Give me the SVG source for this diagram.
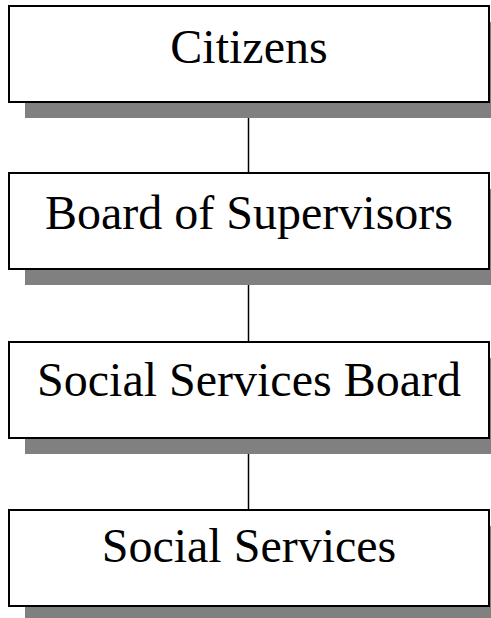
<svg xmlns="http://www.w3.org/2000/svg" width="491" height="618" viewBox="0 0 491 618">
<style>
.shadow{fill:#808080}
.box{fill:#fff;stroke:#000;stroke-width:2}
.label{font-family:"Liberation Serif","Times New Roman",serif;font-size:48px;fill:#000;text-anchor:middle}
.conn{stroke:#000;stroke-width:1.5;fill:none}
</style>
<rect width="491" height="618" fill="#fff"/>
<g id="connectors">
<line class="conn" x1="248.5" y1="102" x2="248.5" y2="173"/>
<line class="conn" x1="248.5" y1="269" x2="248.5" y2="342"/>
<line class="conn" x1="248.5" y1="438" x2="248.5" y2="510"/>
</g>
<g id="citizens">
<rect class="shadow" x="25" y="22" width="480" height="96"/>
<rect class="box" x="9" y="6" width="480" height="96"/>
<text class="label" x="249" y="63">Citizens</text>
</g>
<g id="board-of-supervisors">
<rect class="shadow" x="25" y="189" width="480" height="96"/>
<rect class="box" x="9" y="173" width="480" height="96"/>
<text class="label" x="249" y="229">Board of Supervisors</text>
</g>
<g id="social-services-board">
<rect class="shadow" x="25" y="358" width="480" height="96"/>
<rect class="box" x="9" y="342" width="480" height="96"/>
<text class="label" x="249" y="396">Social Services Board</text>
</g>
<g id="social-services">
<rect class="shadow" x="25" y="526" width="480" height="96"/>
<rect class="box" x="9" y="510" width="480" height="96"/>
<text class="label" x="249" y="562">Social Services</text>
</g>
</svg>
